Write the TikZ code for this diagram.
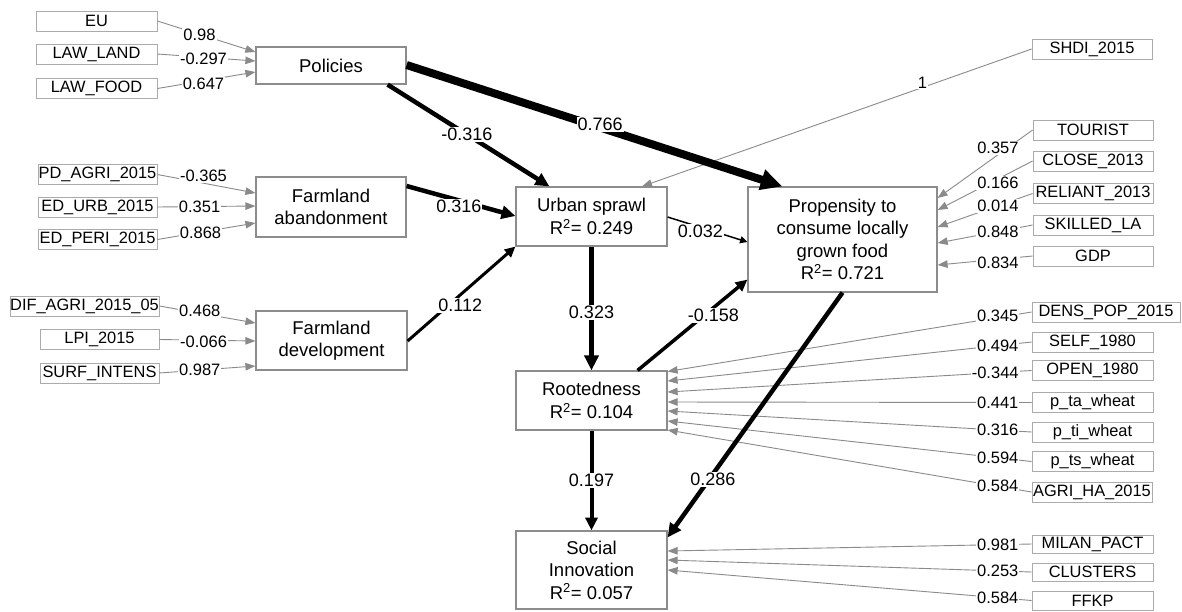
\documentclass[tikz,border=0pt]{standalone}
\usepackage{fontspec}
\setmainfont{Liberation Sans}
\usetikzlibrary{arrows.meta,calc}
\definecolor{lgray}{HTML}{8A8A8A}
\definecolor{bgray}{HTML}{ABABAB}
\definecolor{cgray}{HTML}{8C8C8C}
\tikzset{
  con/.style={draw=cgray, line width=1.2pt, fill=white, align=center, inner sep=1pt,
    minimum width=151pt, minimum height=59pt, font=\fontsize{18.5pt}{22.5pt}\selectfont},
  ind/.style={draw=bgray, line width=0.8pt, fill=white, inner sep=0pt,
    minimum width=121pt, minimum height=20pt, font=\fontsize{16.4pt}{18pt}\selectfont},
  garr/.style={draw=lgray, line width=0.9pt, -{Triangle[length=10pt,width=7.5pt]}},
  glbl/.style={fill=white, inner sep=1pt, text=black, font=\fontsize{16.5pt}{18pt}\selectfont},
  parr/.style={draw=black, -{Triangle[length=4pt 2.2,width=4pt 2]}},
  plbl/.style={fill=white, inner sep=1pt, text=black, font=\fontsize{18pt}{20pt}\selectfont}
}
\begin{document}
\begin{tikzpicture}[x=1pt,y=-1pt]
\useasboundingbox (0,0) rectangle (1182,611);
\fill[white] (0,0) rectangle (1182,611);

% constructs
\node[con, minimum width=150pt, minimum height=37pt] (pol) at (331,65.5) {Policies};
\node[con, minimum width=150pt, minimum height=60pt] (fa) at (331,207) {Farmland\\abandonment};
\node[con] (fd) at (331.5,340.5) {Farmland\\development};
\node[con] (us) at (591.5,216.5) {Urban sprawl\\R\textsuperscript{2}= 0.249};
\node[con, minimum width=189pt, minimum height=105pt] (pr) at (842.5,239.5) {Propensity to\\consume locally\\grown food\\R\textsuperscript{2}= 0.721};
\node[con] (ro) at (591.5,400.5) {Rootedness\\R\textsuperscript{2}= 0.104};
\node[con, minimum height=78pt] (si) at (591.5,570) {Social\\Innovation\\R\textsuperscript{2}= 0.057};

% left indicators
\node[ind] (eu) at (96.5,21) {EU};
\node[ind] (ll) at (96.5,54) {LAW\_LAND};
\node[ind] (lf) at (96.5,88.5) {LAW\_FOOD};
\node[ind, minimum width=119pt] (pd) at (97.5,174.5) {PD\_AGRI\_2015};
\node[ind, minimum width=119pt] (eurb) at (97.5,207) {ED\_URB\_2015};
\node[ind, minimum width=119pt] (ep) at (97.5,239.5) {ED\_PERI\_2015};
\node[ind, minimum width=149pt] (dif) at (84.5,306) {DIF\_AGRI\_2015\_05};
\node[ind, minimum width=119pt] (lpi) at (99.5,339.5) {LPI\_2015};
\node[ind, minimum width=119pt] (surf) at (99.5,373) {SURF\_INTENS};

% right indicators
\node[ind, minimum width=120pt] (shdi) at (1092,49) {SHDI\_2015};
\node[ind, minimum width=120pt] (tour) at (1093,130) {TOURIST};
\node[ind, minimum width=120pt] (close) at (1093,161) {CLOSE\_2013};
\node[ind, minimum width=120pt] (rel) at (1093,193.5) {RELIANT\_2013};
\node[ind, minimum width=120pt] (skl) at (1093,225) {SKILLED\_LA};
\node[ind, minimum width=120pt] (gdp) at (1093,256) {GDP};
\node[ind, minimum width=148pt] (dens) at (1106,312) {DENS\_POP\_2015};
\node[ind] (self) at (1092.5,342) {SELF\_1980};
\node[ind] (open) at (1092.5,370.5) {OPEN\_1980};
\node[ind] (pta) at (1092.5,402.5) {p\_ta\_wheat};
\node[ind] (pti) at (1092.5,432) {p\_ti\_wheat};
\node[ind] (pts) at (1092.5,461.5) {p\_ts\_wheat};
\node[ind, minimum width=120pt] (agri) at (1092,492) {AGRI\_HA\_2015};
\node[ind, minimum height=18pt] (milan) at (1092.5,544) {MILAN\_PACT};
\node[ind, minimum height=18pt] (clus) at (1092.5,572) {CLUSTERS};
\node[ind, minimum height=19pt] (ffkp) at (1092.5,600.5) {FFKP};

% gray indicator arrows (left)
\draw[garr] (eu.east) -- node[glbl,pos=.43]{0.98} ($(pol.west)+(0,-13.5)$);
\draw[garr] (ll.east) -- node[glbl,pos=.47,yshift=-2pt]{-0.297} ($(pol.west)+(0,-4.5)$);
\draw[garr] (lf.east) -- node[glbl,pos=.47,yshift=-3pt]{0.647} ($(pol.west)+(0,6.5)$);
\draw[garr] (pd.east) -- node[glbl,pos=.47,yshift=7pt]{-0.365} ($(fa.west)+(0,-14)$);
\draw[garr] (eurb.east) -- node[glbl,pos=.43]{0.351} ($(fa.west)+(0,-1)$);
\draw[garr] (ep.east) -- node[glbl,pos=.44,yshift=-1pt]{0.868} ($(fa.west)+(0,16)$);
\draw[garr] (dif.east) -- node[glbl,pos=.42,yshift=2pt]{0.468} ($(fd.west)+(0,-17.5)$);
\draw[garr] (lpi.east) -- node[glbl,pos=.46,yshift=-2pt]{-0.066} ($(fd.west)+(0,0.5)$);
\draw[garr] (surf.east) -- node[glbl,pos=.42]{0.987} ($(fd.west)+(0,25.5)$);

% gray indicator arrows (right)
\draw[garr] (shdi.west) -- node[glbl,pos=.28,yshift=5pt]{1} ($(us.north)+(50.5,0)$);
\draw[garr] (tour.west) -- node[glbl,pos=.365,yshift=7pt]{0.357} ($(pr.east)+(0,-41.5)$);
\draw[garr] (close.west) -- node[glbl,pos=.365,yshift=-4pt]{0.166} ($(pr.east)+(0,-29.5)$);
\draw[garr] (rel.west) -- node[glbl,pos=.365]{0.014} ($(pr.east)+(0,-12.5)$);
\draw[garr] (skl.west) -- node[glbl,pos=.365]{0.848} ($(pr.east)+(0,3.5)$);
\draw[garr] (gdp.west) -- node[glbl,pos=.365,yshift=-4pt]{0.834} ($(pr.east)+(0,25.5)$);

\draw[garr] (dens.west) -- node[glbl,pos=.093,yshift=2pt]{0.345} ($(ro.east)+(0,-29)$);
\draw[garr] (self.west) -- node[glbl,pos=.093]{0.494} ($(ro.east)+(0,-19.5)$);
\draw[garr] (open.west) -- node[glbl,pos=.1]{-0.344} ($(ro.east)+(0,-8.5)$);
\draw[garr] (pta.west) -- node[glbl,pos=.093]{0.441} ($(ro.east)+(0,1.5)$);
\draw[garr] (pti.west) -- node[glbl,pos=.093]{0.316} ($(ro.east)+(0,10.5)$);
\draw[garr] (pts.west) -- node[glbl,pos=.093]{0.594} ($(ro.east)+(0,20.5)$);
\draw[garr] (agri.west) -- node[glbl,pos=.093]{0.584} ($(ro.east)+(0,29.5)$);

\draw[garr] (milan.west) -- node[glbl,pos=.093]{0.981} ($(si.east)+(0,-19)$);
\draw[garr] (clus.west) -- node[glbl,pos=.093]{0.253} ($(si.east)+(0,-10)$);
\draw[garr] (ffkp.west) -- node[glbl,pos=.093]{0.584} ($(si.east)+(0,0)$);

% structural paths
\draw[parr, line width=8pt] ($(pol.east)+(0,-0.5)$) -- node[plbl,pos=.515,yshift=3pt]{0.766} ($(pr.north west)+(35,0)$);
\draw[parr, line width=4.5pt] ($(pol.south east)+(-19,0)$) -- node[plbl,pos=.49]{-0.316} ($(us.north west)+(34,0)$);
\draw[parr, line width=4.5pt] ($(fa.east)+(0,-21)$) -- node[plbl,pos=.48,yshift=-6pt]{0.316} ($(us.west)+(0,-0.5)$);
\draw[parr, line width=3pt] ($(fd.east)+(0,0.5)$) -- node[plbl,pos=.47,yshift=-9pt,xshift=2pt]{0.112} (us.south west);
\draw[parr, line width=1.5pt] ($(us.east)+(0,0.5)$) -- node[plbl,pos=.41,yshift=-4pt]{0.032} ($(pr.west)+(0,2.5)$);
\draw[parr, line width=5pt] (us.south) -- node[plbl,pos=.53]{0.323} (ro.north);
\draw[parr, line width=3.5pt] ($(ro.north east)+(-30,0)$) -- node[plbl,pos=.69,yshift=-8pt]{-0.158} ($(pr.south west)+(0,-13)$);
\draw[parr, line width=4pt] (ro.south) -- node[plbl,pos=.5]{0.197} (si.north);
\draw[parr, line width=4.5pt] (pr.south) -- node[plbl,pos=.764,xshift=4pt]{0.286} ($(si.north east)+(0,7)$);
\end{tikzpicture}
\end{document}
